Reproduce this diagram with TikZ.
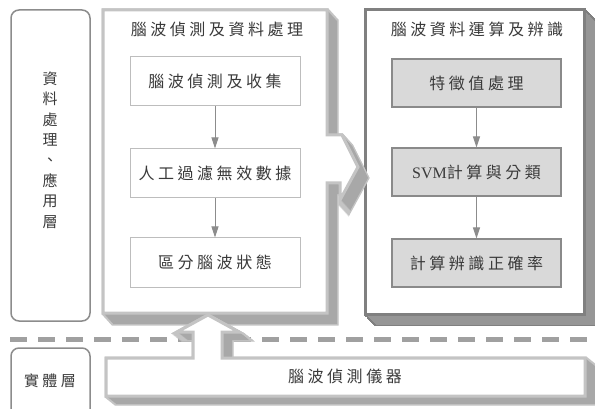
\documentclass[tikz,border=0pt]{standalone}
\usepackage{fontspec}
\setmainfont{Liberation Serif}
\newfontfamily\cjk[LetterSpace=22]{Noto Sans CJK TC}
\usetikzlibrary{arrows.meta}
\definecolor{txtc}{HTML}{3A3A3A}
\definecolor{lgb}{HTML}{C4C4C4}
\definecolor{lge}{HTML}{A8A8A8}
\definecolor{dgb}{HTML}{808080}
\definecolor{dge}{HTML}{969696}
\definecolor{boxb}{HTML}{BDBDBD}
\definecolor{rfill}{HTML}{D9D9D9}
\definecolor{rbord}{HTML}{8A8A8A}
\definecolor{arrc}{HTML}{8C8C8C}
\definecolor{dashc}{HTML}{A0A0A0}
\definecolor{layerb}{HTML}{8C8C8C}
\newcommand\LPpath[1]{\path[#1] (103,10) -- (327,10) -- (327,135) -- (342,135) -- (358,167) -- (340,200) -- (340,183) -- (327,183) -- (327,313) -- (103,313) -- cycle;}
\newcommand\RPpath[1]{\path[#1] (365,10) rectangle (584,314);}
\newcommand\BBpath[1]{\path[#1] (106,358) -- (193,358) -- (193,332) -- (177,332) -- (208,315) -- (239,332) -- (222,332) -- (222,358) -- (585,358) -- (585,396) -- (106,396) -- cycle;}
\tikzset{
  cjktxt/.style={font=\cjk\fontsize{16}{19}\selectfont, text=txtc},
  lbox/.style={cjktxt, draw=boxb, fill=white, line width=1pt, minimum width=170pt, minimum height=49pt, inner sep=0pt},
  rbox/.style={cjktxt, draw=rbord, fill=rfill, line width=1.2pt, minimum width=169pt, minimum height=48pt, inner sep=0pt},
  ttl/.style={cjktxt, inner sep=0pt},
  arr/.style={draw=arrc, line width=0.9pt, -{Triangle[length=11pt,width=7pt]}},
  layerbox/.style={draw=layerb, line width=1.5pt, rounded corners=8pt, fill=white, inner sep=0pt},
  layertxt/.style={font=\cjk\fontsize{15}{20.4}\selectfont, text=txtc, align=center, inner sep=0pt},
  divider/.style={draw=dashc, line width=5pt, dash pattern=on 17pt off 11pt}
}
\begin{document}
\begin{tikzpicture}[x=1pt,y=-1pt]
\clip (0,0) rectangle (595,409);
\fill[white] (0,0) rectangle (595,409);

% layer labels
\node[layerbox, minimum width=79pt, minimum height=311pt] (L1) at (50.5,165.5) {};
\node[layertxt] (L1t) at (50,150) {資\\料\\處\\理\\、\\應\\用\\層};
\node[layerbox, minimum width=79pt, minimum height=72pt] (L2) at (50.5,384) {};
\node[layertxt, font=\cjk\fontsize{15}{18}\selectfont] (L2t) at (50,381) {實體層};

% divider
\coordinate (dA) at (10,339);
\coordinate (dB) at (600,339);
\draw[divider] (dA) -- (dB);

% right panel (3D)
\foreach \t in {0,0.05,...,1.01} {\RPpath{draw=dgb, line width=2.5pt, shift={(11*\t,11*\t)}}}
\foreach \t in {0,0.05,...,1.01} {\RPpath{fill=dge, shift={(11*\t,11*\t)}}}
\RPpath{fill=white, draw=dgb, line width=3pt}

% left panel with arrow (3D)
\foreach \t in {0,0.05,...,1.01} {\LPpath{draw=lgb, line width=3pt, shift={(10*\t,11*\t)}}}
\foreach \t in {0,0.05,...,1.01} {\LPpath{fill=lge, shift={(10*\t,11*\t)}}}
\LPpath{fill=white, draw=lgb, line width=3pt}

% bottom bar with up arrow (3D)
\foreach \t in {0,0.05,...,1.01} {\BBpath{draw=lgb, line width=3pt, shift={(10*\t,8*\t)}}}
\foreach \t in {0,0.05,...,1.01} {\BBpath{fill=lge, shift={(10*\t,8*\t)}}}
\BBpath{fill=white, draw=lgb, line width=3pt}

% titles
\node[ttl] (T1) at (217,29) {腦波偵測及資料處理};
\node[ttl] (T2) at (477,29) {腦波資料運算及辨識};
\node[ttl] (T3) at (345,376) {腦波偵測儀器};

% left column boxes
\node[lbox] (b1) at (215,81.5) {腦波偵測及收集};
\node[lbox] (b2) at (215,173.5) {人工過濾無效數據};
\node[lbox] (b3) at (215,262.5) {區分腦波狀態};
\draw[arr] (b1) -- (b2);
\draw[arr] (b2) -- (b3);

% right column boxes
\node[rbox] (r1) at (476.5,83) {特徵值處理};
\node[rbox] (r2) at (476.5,172) {{\rmfamily\addfontfeatures{LetterSpace=0}SVM}計算與分類};
\node[rbox] (r3) at (476.5,263) {計算辨識正確率};
\draw[arr] (r1) -- (r2);
\draw[arr] (r2) -- (r3);
\end{tikzpicture}
\end{document}
